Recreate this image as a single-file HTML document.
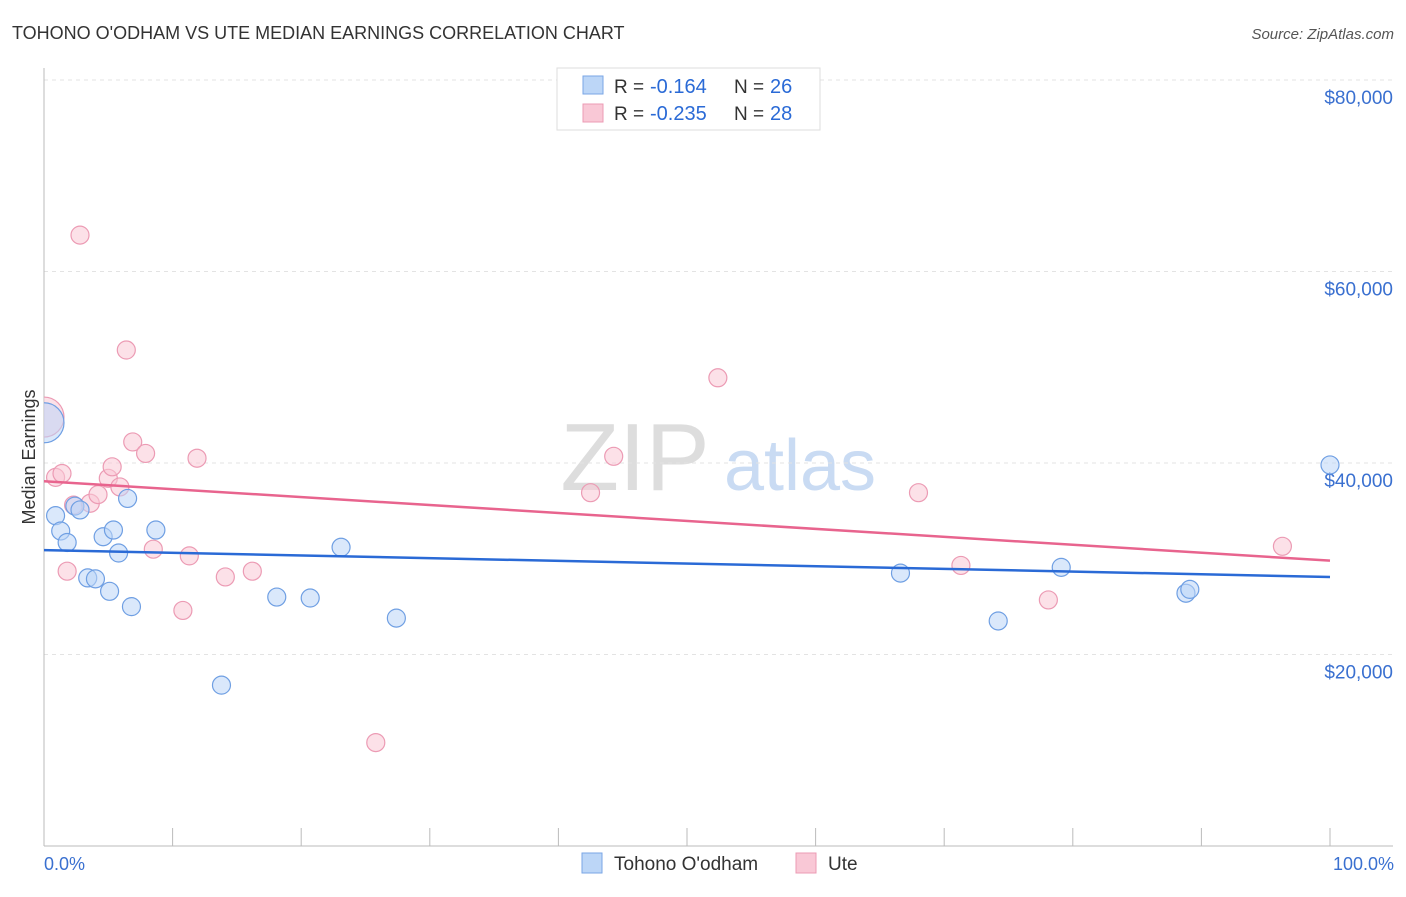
<!DOCTYPE html>
<html><head><meta charset="utf-8"><style>
body{margin:0;background:#fff;font-family:"Liberation Sans",sans-serif;}
svg text{font-family:"Liberation Sans",sans-serif;}
</style></head><body>
<svg id="chart" width="1406" height="892">
<defs><clipPath id="plotclip"><rect x="44" y="60" width="1360" height="786"/></clipPath></defs>
<text x="12" y="39" font-size="18" fill="#333">TOHONO O'ODHAM VS UTE MEDIAN EARNINGS CORRELATION CHART</text>
<text x="1394" y="39" font-size="15" fill="#555" text-anchor="end" font-style="italic">Source: ZipAtlas.com</text>
<text x="35" y="457" font-size="18" fill="#333" text-anchor="middle" transform="rotate(-90 35 457)">Median Earnings</text>
<g><text x="635" y="490" font-size="96" fill="#ddd" text-anchor="middle" font-family="Liberation Serif,serif">ZIP</text><text x="800" y="490" font-size="72" fill="#c9dbf3" text-anchor="middle">atlas</text></g>
<g id="grid"></g><g id="axes"></g><g id="marks" clip-path="url(#plotclip)"></g>
<g>
<rect x="557" y="68" width="263" height="62" fill="#fff" stroke="#ddd"/>
<rect x="583" y="76" width="20" height="18" fill="#bcd6f7" stroke="#7aa6e6"/>
<text x="614" y="93" font-size="19" fill="#333">R =</text><text x="650" y="93" font-size="20" fill="#2a6ad6">-0.164</text>
<text x="734" y="93" font-size="19" fill="#333">N =</text><text x="770" y="93" font-size="20" fill="#2a6ad6">26</text>
<rect x="583" y="104" width="20" height="18" fill="#f9c8d6" stroke="#ec9bb4"/>
<text x="614" y="120" font-size="19" fill="#333">R =</text><text x="650" y="120" font-size="20" fill="#2a6ad6">-0.235</text>
<text x="734" y="120" font-size="19" fill="#333">N =</text><text x="770" y="120" font-size="20" fill="#2a6ad6">28</text>
</g>
<g>
<rect x="582" y="853" width="20" height="20" fill="#bcd6f7" stroke="#7aa6e6"/>
<text x="614" y="870" font-size="19" fill="#333">Tohono O'odham</text>
<rect x="796" y="853" width="20" height="20" fill="#f9c8d6" stroke="#ec9bb4"/>
<text x="828" y="870" font-size="19" fill="#333">Ute</text>
</g>
<text x="44" y="870" font-size="18" fill="#3a70d0">0.0%</text>
<text x="1394" y="870" font-size="18" fill="#3a70d0" text-anchor="end">100.0%</text>
</svg>
<script>
const yTicks=[20000,40000,60000,80000];
const yTickLabels=["$20,000","$40,000","$60,000","$80,000"];
const blueX=[0,0.9,1.3,1.8,2.4,2.8,3.4,4.0,4.6,5.1,5.4,5.8,6.5,6.8,8.7,13.8,18.1,20.7,23.1,27.4,66.6,74.2,79.1,88.8,89.1,100];
const blueY=[44.2,34.5,32.9,31.7,35.5,35.1,28.0,27.9,32.3,26.6,33.0,30.6,36.3,25.0,33.0,16.8,26.0,25.9,31.2,23.8,28.5,23.5,29.1,26.4,26.8,39.8];
const pinkX=[0,0.9,1.4,1.8,2.3,2.8,3.6,4.2,5.0,5.3,5.9,6.4,6.9,7.9,8.5,11.3,10.8,11.9,14.1,16.2,25.8,42.5,44.3,52.4,68.0,71.3,78.1,96.3];
const pinkY=[44.8,38.5,38.9,28.7,35.6,63.8,35.8,36.7,38.4,39.6,37.5,51.8,42.2,41.0,31.0,30.3,24.6,40.5,28.1,28.7,10.8,36.9,40.7,48.9,36.9,29.3,25.7,31.3];
const blueTrend=[30.9,28.1];
const pinkTrend=[38.1,29.8];
const NS="http://www.w3.org/2000/svg";
const sx=v=>44+v*12.86;
const sy=v=>846-v*9.575;
function mk(tag,attrs,parent){const e=document.createElementNS(NS,tag);for(const k in attrs)e.setAttribute(k,attrs[k]);document.getElementById(parent).appendChild(e);return e;}
yTicks.forEach((t,i)=>{
 const g=mk('line',{x1:44,x2:1393,y1:sy(t/1000),y2:sy(t/1000),stroke:'#e3e3e3','stroke-dasharray':'4,4'},'grid');
 
 
 const l=mk('text',{x:1393,y:sy(t/1000)+24,'font-size':19,fill:'#3a70d0','text-anchor':'end'},'grid');
 l.textContent=yTickLabels[i];
 
 
});
const ax=mk('line',{x1:44,x2:44,y1:68,y2:846,stroke:'#bbb'},'axes');


const bx=mk('line',{x1:44,x2:1393,y1:846,y2:846,stroke:'#bbb'},'axes');


for(let i=0;i<=10;i++){
 const t=mk('line',{x1:sx(i*10),x2:sx(i*10),y1:828,y2:846,stroke:'#bbb'},'axes');
 
 
}
function pts(X,Y,fill,stroke,name){
 X.forEach((x,i)=>{
  const r=(i===0)?20:9;
  const c=mk('circle',{cx:sx(x),cy:sy(Y[i]),r:r,fill:fill,'fill-opacity':0.55,stroke:stroke,'stroke-width':1.2},'marks');
  
  
 });
}
pts(pinkX,pinkY,'#f9c8d6','#ec9bb4','ute-point');
pts(blueX,blueY,'#bcd6f7','#6f9fe3','tohono-point');
const t1=mk('line',{x1:sx(0),x2:sx(100),y1:sy(blueTrend[0]),y2:sy(blueTrend[1]),stroke:'#2a6ad6','stroke-width':2.5},'marks');


const t2=mk('line',{x1:sx(0),x2:sx(100),y1:sy(pinkTrend[0]),y2:sy(pinkTrend[1]),stroke:'#e8648e','stroke-width':2.5},'marks');


</script>
</body></html>
